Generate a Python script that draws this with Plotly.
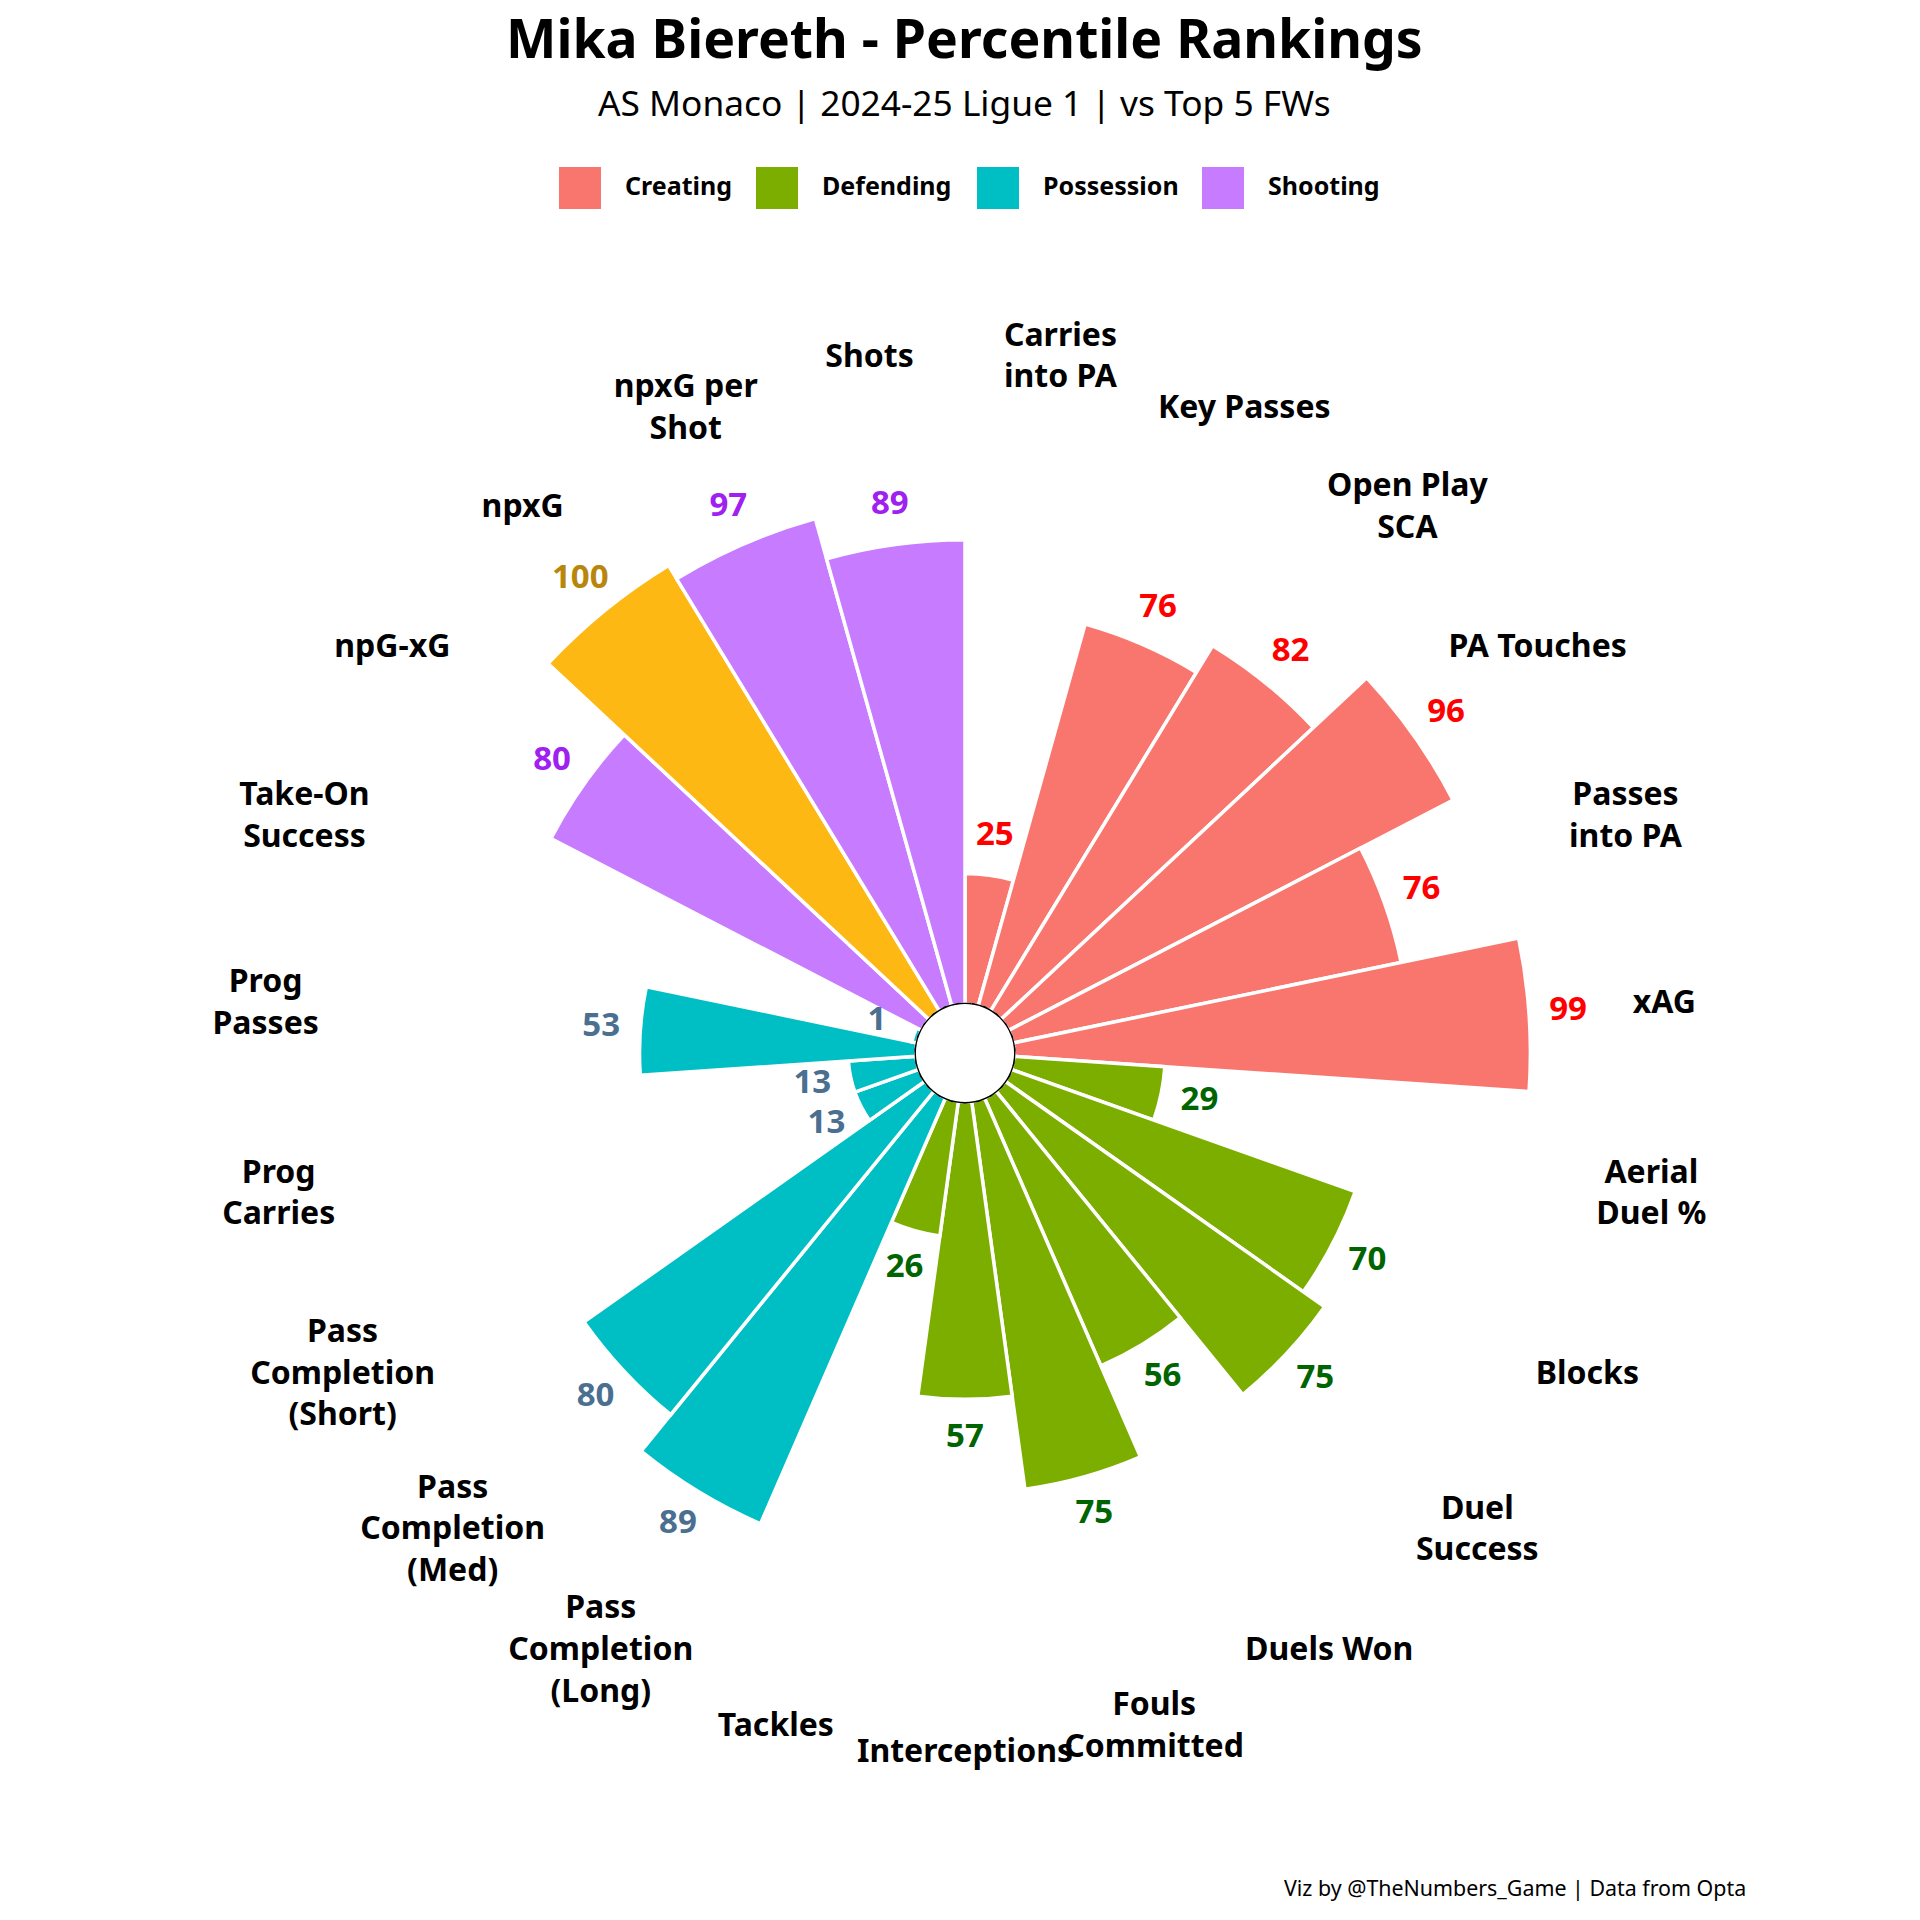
import plotly.graph_objects as go

TITLE = "Mika Biereth - Percentile Rankings"
SUBTITLE = "AS Monaco | 2024-25 Ligue 1 | vs Top 5 FWs"
CAPTION = "Viz by @TheNumbers_Game | Data from Opta"

metrics = [
    "Carries<br>into PA", "Key Passes", "Open Play<br>SCA", "PA Touches", "Passes<br>into PA", "xAG",
    "Aerial<br>Duel %", "Blocks", "Duel<br>Success", "Duels Won", "Fouls<br>Committed", "Interceptions", "Tackles",
    "Pass<br>Completion<br>(Long)", "Pass<br>Completion<br>(Med)", "Pass<br>Completion<br>(Short)",
    "Prog<br>Carries", "Prog<br>Passes", "Take-On<br>Success",
    "npG-xG", "npxG", "npxG per<br>Shot", "Shots",
]
groups = [
    "Creating", "Creating", "Creating", "Creating", "Creating", "Creating",
    "Defending", "Defending", "Defending", "Defending", "Defending", "Defending", "Defending",
    "Possession", "Possession", "Possession", "Possession", "Possession", "Possession",
    "Shooting", "Shooting", "Shooting", "Shooting",
]
percentiles = [25, 76, 82, 96, 76, 99, 29, 70, 75, 56, 75, 57, 26, 89, 80, 13, 13, 53, 1, 80, 100, 97, 89]

GROUP_ORDER = ["Creating", "Defending", "Possession", "Shooting"]
BAR_COLORS = {"Creating": "#F8766D", "Defending": "#7CAE00", "Possession": "#00BFC4", "Shooting": "#C77CFF"}
TEXT_COLORS = {"Creating": "#FF0000", "Defending": "#006400", "Possession": "#4A6F8F", "Shooting": "#A020F0"}
TOP_BAR = "#FDB813"
TOP_TEXT = "#B8860B"

FONT = "Noto Sans"
W = H = 1920

bar_colors = [TOP_BAR if p == 100 else BAR_COLORS[g] for p, g in zip(percentiles, groups)]
value_colors = [TOP_TEXT if p == 100 else TEXT_COLORS[g] for p, g in zip(percentiles, groups)]

fig = go.Figure()

fig.add_trace(go.Barpolar(
    r=percentiles,
    theta=metrics,
    marker=dict(color=bar_colors, line=dict(color="white", width=3.5)),
    hoverinfo="skip",
))

# ring round the hole
fig.add_trace(go.Scatterpolar(
    r=[0] * (len(metrics) + 1),
    theta=metrics + metrics[:1],
    mode="lines",
    line=dict(color="black", width=3.5),
    cliponaxis=False,
    hoverinfo="skip",
))

fig.add_trace(go.Scatterpolar(
    r=[p + 7.5 for p in percentiles],
    theta=metrics,
    mode="text",
    text=[str(p) for p in percentiles],
    textfont=dict(family=FONT, size=33, color=value_colors, weight="bold"),
    cliponaxis=False,
    hoverinfo="skip",
))

fig.add_trace(go.Scatterpolar(
    r=[125] * len(metrics),
    theta=metrics,
    mode="text",
    text=metrics,
    textfont=dict(family=FONT, size=32, color="black", weight="bold"),
    cliponaxis=False,
    hoverinfo="skip",
))

annotations = [
    dict(text=TITLE, x=965 / W, y=1 - 38 / H, xanchor="center", yanchor="middle",
         font=dict(family=FONT, size=53.5, color="black", weight="bold")),
    dict(text=SUBTITLE, x=965 / W, y=1 - 102 / H, xanchor="center", yanchor="middle",
         font=dict(family=FONT, size=35.3, color="black")),
    dict(text=CAPTION, x=1748 / W, y=1 - 1887 / H, xanchor="right", yanchor="middle",
         font=dict(family=FONT, size=21.4, color="black")),
]

shapes = []
legend_left = [559, 756, 977, 1202]
for g, x0 in zip(GROUP_ORDER, legend_left):
    shapes.append(dict(type="rect", xref="paper", yref="paper",
                       x0=x0 / W, x1=(x0 + 42) / W, y0=1 - 209 / H, y1=1 - 167 / H,
                       fillcolor=BAR_COLORS[g], line=dict(width=0)))
    annotations.append(dict(text=g, x=(x0 + 64) / W, y=1 - 185 / H, xanchor="left", yanchor="middle",
                            font=dict(family=FONT, size=25, color="black", weight="bold")))

for a in annotations:
    a.update(xref="paper", yref="paper", showarrow=False)

fig.update_layout(
    width=W,
    height=H,
    margin=dict(l=0, r=0, t=0, b=0),
    paper_bgcolor="white",
    showlegend=False,
    annotations=annotations,
    shapes=shapes,
    polar=dict(
        domain=dict(x=[264 / W, 1666 / W], y=[1 - 1754 / H, 1 - 352 / H]),
        hole=0.07,
        bargap=0,
        bgcolor="white",
        radialaxis=dict(range=[0, 125], visible=False),
        angularaxis=dict(type="category", categoryarray=metrics, rotation=90 - 180 / len(metrics),
                         direction="clockwise", visible=False),
    ),
)

fig.write_html("out.html", config={"displayModeBar": False},
               post_script="document.body.style.margin='0';")
